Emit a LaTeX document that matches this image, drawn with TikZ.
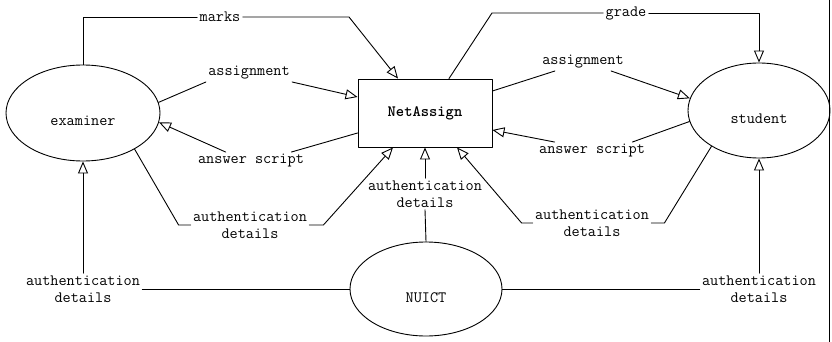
\documentclass[tikz,border=0pt]{standalone}
\usepackage{fontspec}
\usetikzlibrary{arrows.meta}
\usetikzlibrary{shapes.geometric}

\begin{document}
\begin{tikzpicture}[line cap=round,line join=round,>={Triangle[open,length=12pt,width=10pt]},x=1pt,y=-1pt,line width=0.9pt,
  every node/.style={font=\ttfamily\fontsize{15.8}{17}\selectfont},
  actor/.style={draw,ellipse,inner sep=0pt,text height=26pt,text depth=0pt},
  flow/.style={inner sep=2pt,align=center}]
\useasboundingbox (0,0) rectangle (832,342);
% entities and the process
\node [actor,minimum width=154pt,minimum height=96pt] (examiner) at (83,113) {examiner};
\node [draw,minimum width=134pt,minimum height=68pt] (netassign) at (425,113) {\bfseries NetAssign};
\node [actor,minimum width=142pt,minimum height=95pt] (student) at (759,110.5) {student};
\node [actor,minimum width=152pt,minimum height=94pt] (nuict) at (426,289) {NUICT};
% flow labels
\node [flow] (marks) at (220,17) {marks};
\node [flow] (grade) at (626,13) {grade};
\node [flow] (asgL) at (249,73) {assignment};
\node [flow] (asgR) at (583,62) {assignment};
\node [flow] (ansL) at (251,161) {answer script};
\node [flow] (ansR) at (592,151) {answer script};
\node [flow] (authL) at (250,225) {authentication\\details};
\node [flow] (authM) at (425,194) {authentication\\details};
\node [flow] (authR) at (592,223) {authentication\\details};
\node [flow] (authLL) at (83,289) {authentication\\details};
\node [flow] (authLR) at (759,289) {authentication\\details};
% bends
\coordinate (marksbend) at (349,17);
\coordinate (gradebend) at (492,13);
\coordinate (authLa) at ([xshift=-12pt]authL.west);
\coordinate (authLb) at ([xshift=14pt]authL.east);
\coordinate (authRa) at ([xshift=-11pt]authR.west);
\coordinate (authRb) at ([xshift=13pt]authR.east);
% flows
\draw (examiner.north) |- (marks.west);
\draw [->] (marks.east) -- (marksbend) -- ([xshift=-27pt]netassign.north);
\draw ([xshift=24pt]netassign.north) -- (gradebend) -- (grade.west);
\draw [->] (grade.east) -| (student.north);
\draw (examiner.8) -- (asgL.south west);
\draw [->] (asgL.south east) -- ([yshift=16pt]netassign.west);
\draw ([yshift=-20pt]netassign.west) -- ([xshift=-15pt]ansL.north east);
\draw [->] ([xshift=30pt]ansL.north west) -- (examiner.-7);
\draw (examiner.-35) -- (authLa) -- (authL.west);
\draw [->] (authL.east) -- (authLb) -- ([xshift=-32pt]netassign.south);
\draw (nuict.north) -- (authM.south);
\draw [->] (authM.north) -- (netassign.south);
\draw (student.217) -- (authRb) -- (authR.east);
\draw [->] (authR.west) -- (authRa) -- ([xshift=32pt]netassign.south);
\draw ([yshift=22pt]netassign.east) -- ([xshift=15pt]asgR.south west);
\draw [->] ([xshift=-15pt]asgR.south east) -- (student.170);
\draw (student.189) -- ([xshift=-15pt]ansR.north east);
\draw [->] ([xshift=18pt]ansR.north west) -- ([yshift=-17pt]netassign.east);
\draw (nuict.west) -- (authLL.east);
\draw [->] (authLL.north) -- (examiner.south);
\draw (nuict.east) -- (authLR.west);
\draw [->] (authLR.north) -- (student.south);
%\draw [fill] (460,45) circle [radius=0.8pt];
\draw (829,0) -- (829,342);
\end{tikzpicture}
\end{document}
